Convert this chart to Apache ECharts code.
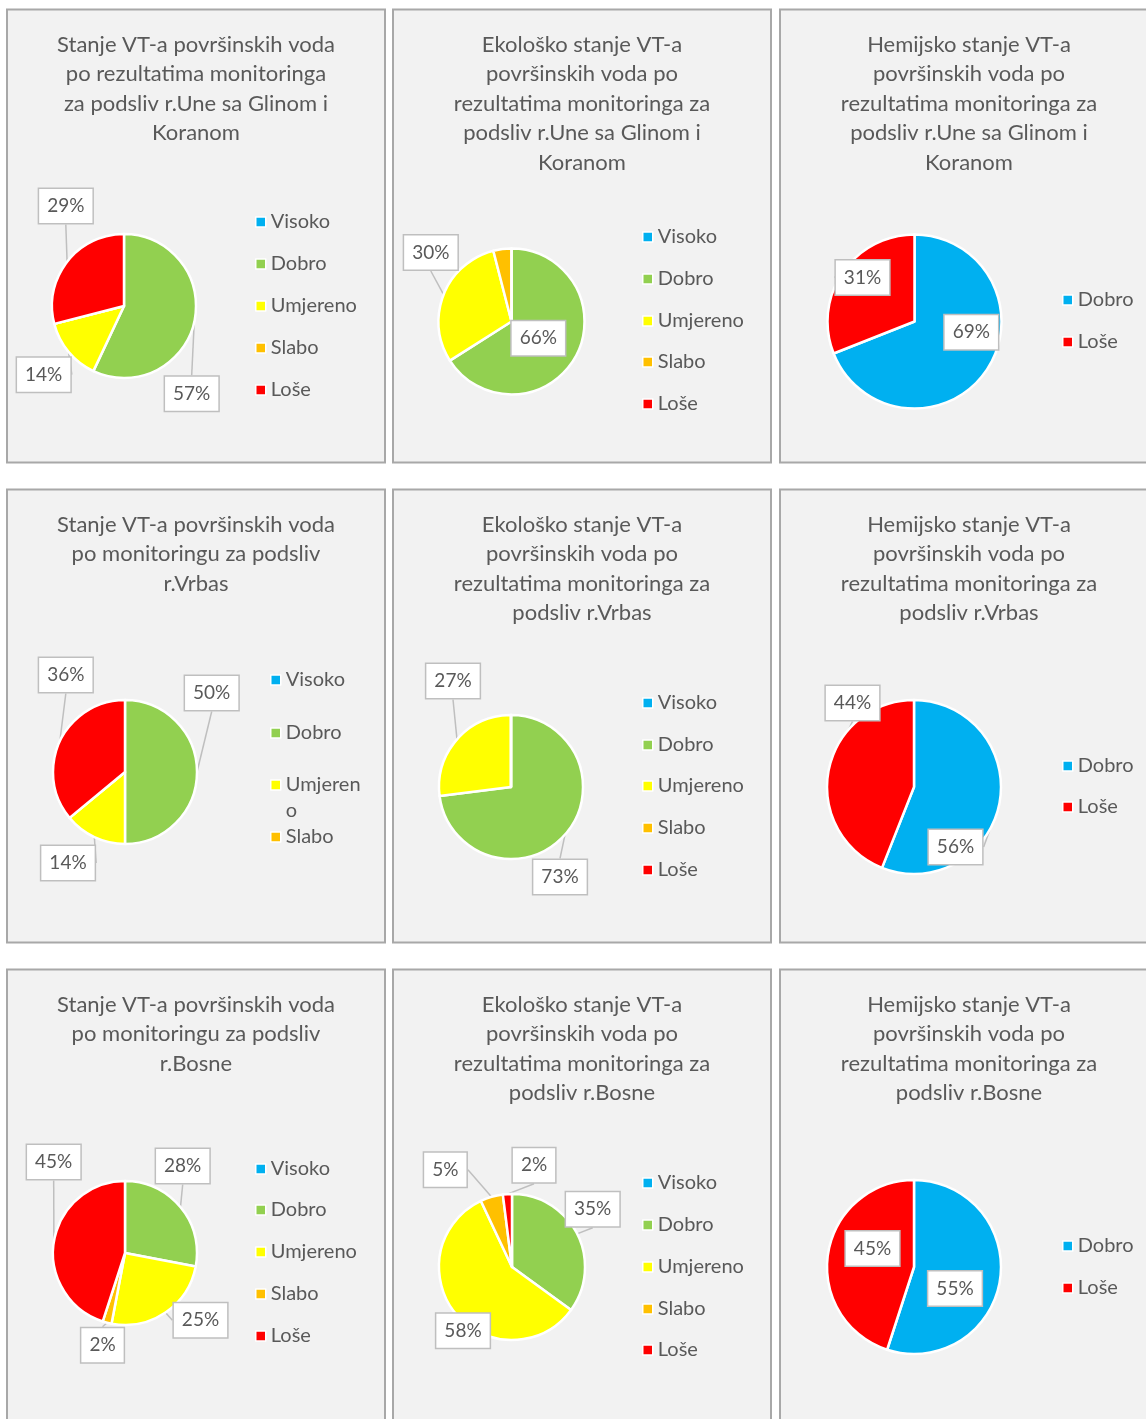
<!DOCTYPE html>
<html>
<head>
<meta charset="utf-8">
<script src="https://cdn.jsdelivr.net/npm/echarts@6/dist/echarts.min.js"></script>
<style>
  html, body { margin: 0; padding: 0; background: #ffffff; overflow: hidden; }
  #chart { width: 1146px; height: 1419px; }
</style>
</head>
<body>
<div id="chart"></div>
<script>
// Categories of water-body status
const statusClasses = ['Visoko', 'Dobro', 'Umjereno', 'Slabo', 'Loše'];
const chemicalClasses = ['Dobro', 'Loše'];

// Shares (%) of water bodies per class
const uneOverall   = [0, 57, 14, 0, 29];
const uneEcological = [0, 66, 30, 4, 0];
const uneChemical  = [69, 31];
const vrbasOverall = [0, 50, 14, 0, 36];
const vrbasEcological = [0, 73, 27, 0, 0];
const vrbasChemical = [56, 44];
const bosnaOverall = [0, 28, 25, 2, 45];
const bosnaEcological = [0, 35, 58, 5, 2];
const bosnaChemical = [55, 45];

// Chart titles
const chartTitles = [
  'Stanje VT-a površinskih voda\npo rezultatima monitoringa\nza podsliv r.Une sa Glinom i\nKoranom',
  'Ekološko stanje VT-a\npovršinskih voda po\nrezultatima monitoringa za\npodsliv r.Une sa Glinom i\nKoranom',
  'Hemijsko stanje VT-a\npovršinskih voda po\nrezultatima monitoringa za\npodsliv r.Une sa Glinom i\nKoranom',
  'Stanje VT-a površinskih voda\npo monitoringu za podsliv\nr.Vrbas',
  'Ekološko stanje VT-a\npovršinskih voda po\nrezultatima monitoringa za\npodsliv r.Vrbas',
  'Hemijsko stanje VT-a\npovršinskih voda po\nrezultatima monitoringa za\npodsliv r.Vrbas',
  'Stanje VT-a površinskih voda\npo monitoringu za podsliv\nr.Bosne',
  'Ekološko stanje VT-a\npovršinskih voda po\nrezultatima monitoringa za\npodsliv r.Bosne',
  'Hemijsko stanje VT-a\npovršinskih voda po\nrezultatima monitoringa za\npodsliv r.Bosne'
];

// Colours
const statusColors = ['#00b0f0', '#92d050', '#ffff00', '#ffc000', '#ff0000'];
const chemicalColors = ['#00b0f0', '#ff0000'];
const TEXT = '#595959';
const FONT = 'Lato';

// Panel frames
const panelLeft = [7, 393, 780];
const panelTop = [9.5, 489.5, 969.5];
const panelW = 378, panelH = 453;

// Layout of each panel: pie centre/radius, callout boxes, legend entries
const panels = [
  { names: statusClasses, values: uneOverall, colors: statusColors,
    center: [124, 306], r: 72,
    callouts: { 1: [191.7, 393.7], 2: [43.7, 374.7], 4: [65.8, 206] },
    legendLeft: 255, legendRows: [222, 264, 306, 348, 390] },
  { names: statusClasses, values: uneEcological, colors: statusColors,
    center: [511.5, 321.5], r: 73,
    callouts: { 1: [538.3, 338.3], 2: [430.8, 252.5] },
    legendLeft: 642, legendRows: [237, 279, 321, 362, 404] },
  { names: chemicalClasses, values: uneChemical, colors: chemicalColors,
    center: [914.5, 321.5], r: 87,
    callouts: { 0: [971.3, 332.2], 1: [862.5, 277.5] },
    legendLeft: 1062, legendRows: [300, 342] },
  { names: statusClasses, values: vrbasOverall, colors: statusColors,
    center: [125, 772], r: 72,
    callouts: { 1: [211.7, 693], 2: [68, 863], 4: [65.8, 675] },
    legendLeft: 270, legendRows: [680, 733, 785, 837], wrap: { 2: ['Umjeren', 'o'] } },
  { names: statusClasses, values: vrbasEcological, colors: statusColors,
    center: [511, 787], r: 72,
    callouts: { 1: [560, 877], 2: [453, 681] },
    legendLeft: 642, legendRows: [703, 745, 786, 828, 870] },
  { names: chemicalClasses, values: vrbasChemical, colors: chemicalColors,
    center: [914, 787], r: 87,
    callouts: { 0: [955.5, 847], 1: [852.5, 703] },
    legendLeft: 1062, legendRows: [766, 807] },
  { names: statusClasses, values: bosnaOverall, colors: statusColors,
    center: [125, 1253], r: 72,
    callouts: { 1: [182.7, 1166], 2: [200.5, 1320.3], 3: [102.5, 1345.3], 4: [53.7, 1162] },
    legendLeft: 255, legendRows: [1169, 1210, 1252, 1294, 1336] },
  { names: statusClasses, values: bosnaEcological, colors: statusColors,
    center: [512, 1267], r: 73,
    callouts: { 1: [592.7, 1209.2], 2: [463, 1330.8], 3: [445.3, 1169.7], 4: [534, 1165.3] },
    legendLeft: 642, legendRows: [1183, 1225, 1267, 1309, 1350] },
  { names: chemicalClasses, values: bosnaChemical, colors: chemicalColors,
    center: [914, 1267], r: 87,
    callouts: { 0: [955, 1288.5], 1: [872.5, 1248.5] },
    legendLeft: 1062, legendRows: [1246, 1288] }
];

const titles = [];
const legends = [];
const series = [];
const frames = [];

panels.forEach(function (p, i) {
  const col = i % 3, row = Math.floor(i / 3);
  const x0 = panelLeft[col], y0 = panelTop[row];

  frames.push({
    type: 'rect', silent: true, z: -10,
    shape: { x: x0, y: y0, width: panelW, height: panelH },
    style: { fill: '#f2f2f2', stroke: '#a8a8a8', lineWidth: 2 }
  });

  titles.push({
    text: chartTitles[i],
    left: x0 + panelW / 2,
    top: y0 + 20.5,
    textAlign: 'center',
    padding: 0,
    textStyle: { fontFamily: FONT, fontSize: 22, fontWeight: 'normal', color: TEXT, lineHeight: 29.5 }
  });

  p.legendRows.forEach(function (cy, k) {
    // A wrapped entry keeps its first line level with the marker:
    // a blank leading line balances the vertically centred block.
    const lines = p.wrap && p.wrap[k];
    const lh = lines ? 26 : 20;
    const text = lines ? '\n' + lines.join('\n') : null;
    legends.push({
      data: [p.names[k]],
      orient: 'vertical',
      left: p.legendLeft,
      top: lines ? cy - 1.5 * lh : cy - lh / 2,
      padding: 0,
      itemWidth: 10, itemHeight: 10, itemGap: 0,
      icon: 'rect',
      selectedMode: false,
      formatter: lines ? function () { return text; } : '{name}',
      itemStyle: { color: p.colors[k], borderColor: '#ffffff', borderWidth: 1.5 },
      textStyle: { fontFamily: FONT, fontSize: 20, color: TEXT, lineHeight: lh }
    });
  });

  series.push({
    type: 'pie',
    center: p.center,
    radius: p.r,
    startAngle: 90,
    clockwise: true,
    avoidLabelOverlap: false,
    emphasis: { disabled: true },
    itemStyle: { borderColor: '#ffffff', borderWidth: 2.5 },
    label: {
      show: true,
      formatter: '{c}%',
      fontFamily: FONT, fontSize: 19, color: TEXT, lineHeight: 22,
      backgroundColor: '#ffffff', borderColor: '#bfbfbf', borderWidth: 1.5,
      padding: [6, 8]
    },
    labelLine: { show: true, length: 0, length2: 0, lineStyle: { color: '#bfbfbf', width: 1.5 } },
    labelLayout: function (params) {
      const spot = p.callouts[params.dataIndex];
      if (!spot) return {};
      return { x: spot[0], y: spot[1], align: 'center', verticalAlign: 'middle' };
    },
    data: p.values.map(function (v, k) {
      const item = { name: p.names[k], value: v, itemStyle: { color: p.colors[k] } };
      if (!p.callouts[k]) {
        item.label = { show: false };
        item.labelLine = { show: false };
      }
      return item;
    })
  });
});

const chart = echarts.init(document.getElementById('chart'), null, { renderer: 'canvas' });
chart.setOption({
  animation: false,
  backgroundColor: '#ffffff',
  textStyle: { fontFamily: FONT },
  graphic: { elements: frames },
  title: titles,
  legend: legends,
  series: series
});
</script>
</body>
</html>
